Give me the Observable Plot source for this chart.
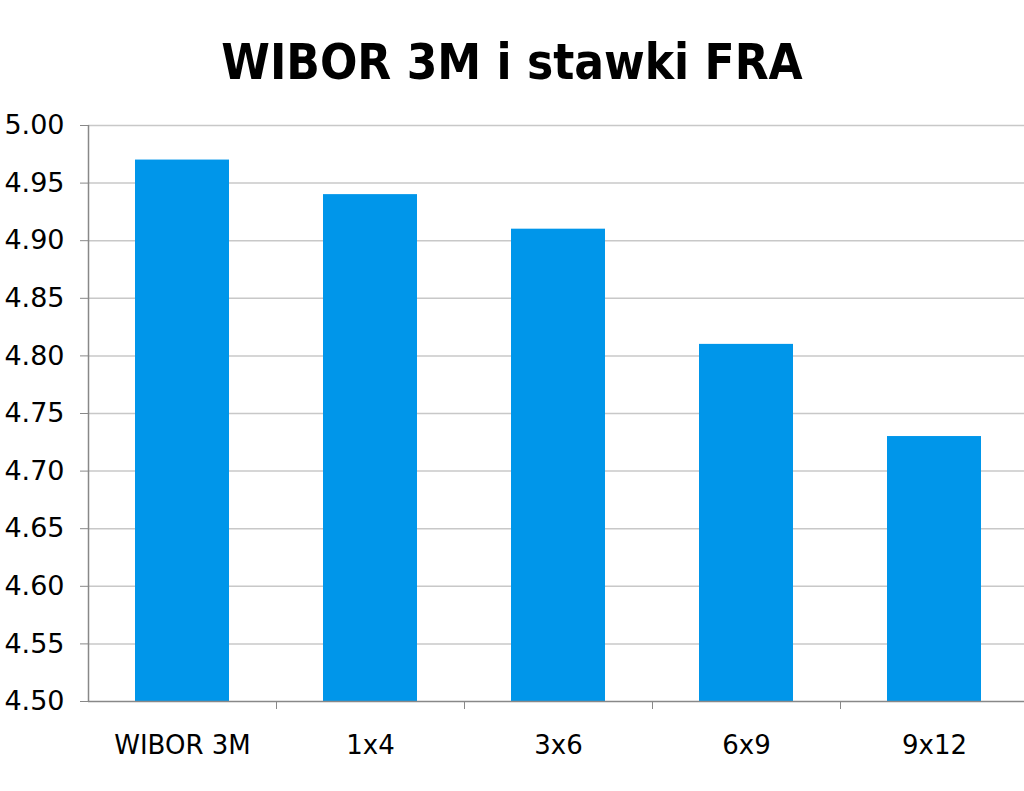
<!DOCTYPE html>
<html>
<head>
<meta charset="utf-8">
<script src="https://cdn.jsdelivr.net/npm/d3@7"></script>
<script src="https://cdn.jsdelivr.net/npm/@observablehq/plot@0.6"></script>
<style>
  html, body { margin: 0; padding: 0; background: #fff; overflow: hidden; width: 1024px; height: 791px; }
  #title { height: 100px; box-sizing: border-box; padding-top: 38px; font-family: "DejaVu Sans Condensed", "DejaVu Sans", sans-serif; font-weight: bold; font-size: 49px; line-height: 1; text-align: center; color: #000; white-space: nowrap; }
  #chart { width: 1024px; overflow: hidden; }
  #chart svg { display: block; max-width: none !important; }
</style>
</head>
<body>
<div id="title">WIBOR 3M i stawki FRA</div>
<div id="chart"></div>
<script>
const categories = ["WIBOR 3M", "1x4", "3x6", "6x9", "9x12"];
const values = [4.97, 4.94, 4.91, 4.81, 4.73];
const yTicks = [4.50, 4.55, 4.60, 4.65, 4.70, 4.75, 4.80, 4.85, 4.90, 4.95, 5.00];
const yMin = 4.50, yMax = 5.00;

const data = categories.map((c, i) => ({category: c, value: values[i]}));

const width = 1028, marginLeft = 88, marginRight = 0;
const halfStep = (width - marginLeft - marginRight) / categories.length / 2;
const font = "DejaVu Sans, sans-serif";

const chart = Plot.plot({
  width,
  height: 691,
  marginTop: 25,
  marginBottom: 90,
  marginLeft,
  marginRight,
  style: {fontFamily: font, fontSize: "26px", color: "#000", background: "#fff", overflow: "visible", maxWidth: "none"},
  x: {domain: categories, paddingInner: 0.5, paddingOuter: 0.25, label: null},
  y: {domain: [yMin, yMax], label: null},
  marks: [
    Plot.gridY(yTicks.slice(1), {stroke: "#c8c8c8", strokeOpacity: 1, strokeWidth: 1.5}),
    Plot.barY(data, {x: "category", y1: () => yMin, y2: "value", fill: "#0096EA"}),
    Plot.axisY(yTicks, {tickSize: 8, tickPadding: 16, stroke: "#888", tickFormat: d => d.toFixed(2), fontSize: 27, label: null}),
    Plot.axisX(categories.slice(1), {tickSize: 8, text: null, dx: -halfStep, stroke: "#888", label: null}),
    Plot.axisX({tickSize: 0, tickPadding: 34, fontSize: 26, label: null}),
    Plot.ruleY([yMin], {stroke: "#888", strokeWidth: 1.5}),
    Plot.ruleX([categories[0]], {dx: -halfStep, stroke: "#888", strokeWidth: 1.5})
  ]
});
document.getElementById("chart").appendChild(chart);
</script>
</body>
</html>
